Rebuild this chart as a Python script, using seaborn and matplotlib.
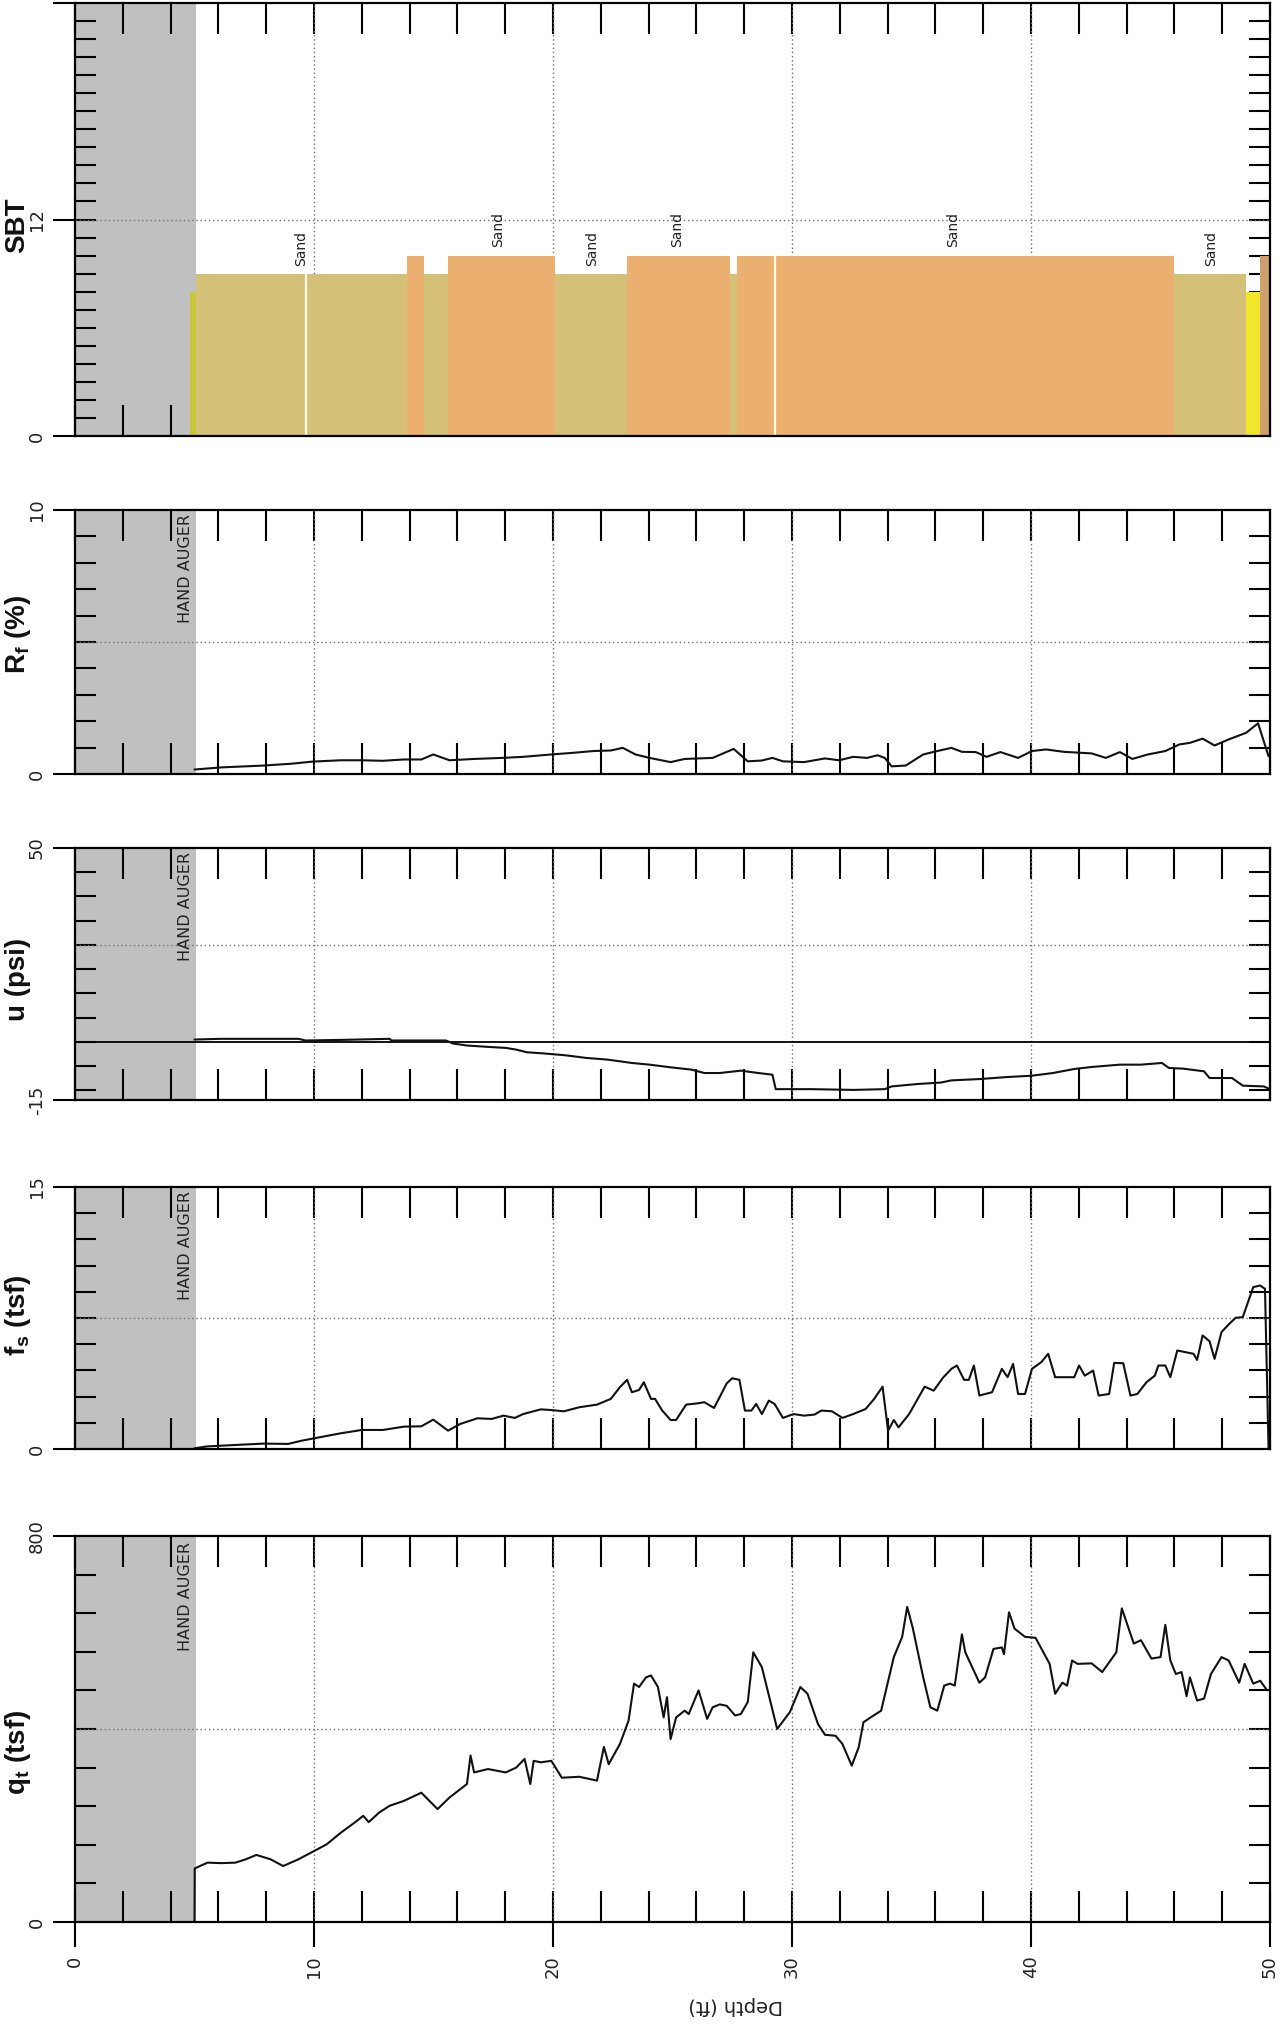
import numpy as np
import pandas as pd
import matplotlib
matplotlib.use("Agg")
import matplotlib.pyplot as plt
import seaborn as sns
from matplotlib.ticker import FixedLocator, MultipleLocator

# ---------------- data ----------------
qt_depth = [5.00, 5.01, 5.54, 6.12, 6.71, 7.15, 7.59, 8.18, 8.71, 9.35,
            10.0, 10.53, 11.12, 11.70, 12.06, 12.29, 12.73, 13.17, 13.76, 14.49,
            15.17, 15.67, 16.40, 16.55, 16.70, 17.28, 18.02, 18.46, 18.81, 19.05,
            19.19, 19.49, 19.93, 20.37, 21.10, 21.84, 22.13, 22.33, 22.80, 23.16,
            23.39, 23.60, 23.89, 24.10, 24.39, 24.63, 24.77, 24.92, 25.15, 25.51,
            25.68, 26.09, 26.45, 26.68, 26.98, 27.27, 27.62, 27.86, 28.15, 28.38,
            28.74, 29.38, 29.91, 30.35, 30.65, 31.09, 31.38, 31.82, 32.11, 32.50,
            32.79, 32.99, 33.29, 33.73, 34.26, 34.61, 34.82, 35.05, 35.49, 35.79,
            36.08, 36.37, 36.61, 36.81, 37.11, 37.25, 37.84, 38.08, 38.43, 38.78,
            38.87, 39.08, 39.31, 39.75, 40.19, 40.78, 41.01, 41.31, 41.51, 41.72,
            41.95, 42.54, 42.98, 43.57, 43.80, 44.30, 44.60, 45.04, 45.42, 45.62,
            45.83, 46.06, 46.30, 46.51, 46.65, 46.95, 47.24, 47.53, 47.97, 48.27,
            48.71, 48.94, 49.30, 49.59, 49.88]
qt_value = [0, 111, 123, 122, 123, 130, 139, 130, 116, 130,
            147, 161, 185, 206, 220, 207, 227, 241, 251, 268,
            234, 258, 286, 345, 310, 317, 310, 320, 338, 286,
            334, 331, 334, 299, 301, 293, 363, 327, 369, 417,
            494, 487, 507, 511, 487, 424, 466, 379, 424, 438,
            431, 480, 421, 445, 451, 448, 428, 431, 456, 559,
            528, 400, 435, 487, 473, 410, 388, 386, 369, 324,
            362, 414, 424, 438, 549, 591, 653, 610, 507, 445,
            438, 490, 494, 490, 596, 559, 496, 507, 566, 569,
            555, 642, 608, 591, 589, 535, 473, 496, 490, 542,
            535, 536, 518, 559, 650, 577, 584, 546, 549, 616,
            542, 514, 518, 468, 507, 459, 463, 514, 549, 542,
            496, 535, 494, 500, 480]

fs_depth = [5.00, 5.54, 6.71, 7.89, 8.91, 9.50, 10.23, 11.12, 12.00, 12.88,
            13.76, 14.49, 14.99, 15.61, 16.11, 16.84, 17.43, 17.93, 18.40, 18.75,
            19.49, 19.93, 20.46, 21.10, 21.84, 22.42, 22.80, 23.10, 23.30, 23.60,
            23.80, 24.10, 24.27, 24.57, 24.92, 25.15, 25.57, 26.09, 26.33, 26.74,
            27.27, 27.50, 27.80, 28.03, 28.30, 28.50, 28.74, 29.03, 29.27, 29.62,
            30.06, 30.50, 30.94, 31.23, 31.67, 32.11, 32.56, 33.08, 33.44, 33.79,
            34.02, 34.26, 34.46, 34.90, 35.55, 35.93, 36.31, 36.67, 36.90, 37.20,
            37.40, 37.61, 37.84, 38.37, 38.78, 39.02, 39.25, 39.46, 39.75, 40.04,
            40.43, 40.72, 41.01, 41.51, 41.81, 42.01, 42.25, 42.60, 42.83, 43.27,
            43.48, 43.86, 44.16, 44.45, 44.83, 45.18, 45.33, 45.62, 45.83, 46.12,
            46.80, 46.95, 47.18, 47.47, 47.68, 47.97, 48.27, 48.56, 48.86, 49.30,
            49.59, 49.79, 49.94]
fs_value = [0.04, 0.15, 0.23, 0.31, 0.29, 0.48, 0.67, 0.90, 1.09, 1.09,
            1.28, 1.30, 1.68, 1.05, 1.43, 1.76, 1.72, 1.91, 1.78, 2.00,
            2.27, 2.23, 2.16, 2.39, 2.54, 2.87, 3.54, 3.96, 3.25, 3.38,
            3.82, 2.87, 2.87, 2.20, 1.66, 1.66, 2.54, 2.62, 2.68, 2.35,
            3.76, 4.05, 3.96, 2.20, 2.20, 2.58, 2.00, 2.77, 2.58, 1.78,
            2.00, 1.91, 1.97, 2.20, 2.16, 1.78, 2.00, 2.29, 2.87, 3.57,
            1.05, 1.66, 1.24, 2.00, 3.57, 3.34, 4.07, 4.59, 4.78, 3.96,
            3.96, 4.78, 3.06, 3.25, 4.59, 4.11, 4.87, 3.15, 3.15, 4.59,
            4.97, 5.45, 4.11, 4.11, 4.11, 4.78, 4.20, 4.49, 3.06, 3.15,
            4.93, 4.91, 3.06, 3.15, 3.82, 4.20, 4.78, 4.78, 4.11, 5.64,
            5.45, 5.10, 6.50, 6.17, 5.16, 6.69, 7.13, 7.51, 7.55, 9.27,
            9.36, 9.17, 0.0]

u_depth = [5.00, 6.12, 7.89, 9.35, 9.65, 11.12, 13.17, 13.23, 15.52, 15.82,
           16.40, 17.28, 18.02, 18.46, 18.90, 19.63, 20.51, 21.40, 22.28, 23.30,
           24.04, 24.92, 25.80, 26.33, 26.98, 27.86, 28.59, 29.18, 29.32, 30.79,
           32.56, 33.88, 34.17, 35.20, 36.23, 36.67, 37.84, 39.02, 40.04, 40.92,
           41.81, 42.54, 43.72, 44.60, 45.48, 45.77, 46.36, 47.24, 47.47, 48.41,
           48.86, 49.74, 50.0]
u_value = [0.6, 0.78, 0.78, 0.78, 0.35, 0.5, 0.78, 0.35, 0.35, -0.43,
           -0.95, -1.3, -1.56, -2.0, -2.68, -3.0, -3.46, -4.15, -4.58, -5.45,
           -5.88, -6.57, -7.17, -8.04, -8.04, -7.43, -8.04, -8.47, -12.2, -12.2,
           -12.4, -12.2, -11.5, -10.9, -10.5, -9.94, -9.6, -9.07, -8.73, -8.04,
           -7.0, -6.48, -5.88, -5.88, -5.45, -6.74, -6.91, -7.6, -9.33, -9.33,
           -11.3, -11.5, -12.2]

rf_depth = [5.00, 6.12, 7.89, 9.06, 9.94, 11.12, 12.00, 12.88, 13.76, 14.49,
            14.99, 15.67, 16.70, 17.87, 18.75, 19.93, 20.81, 21.69, 22.42, 22.92,
            23.45, 24.04, 24.92, 25.51, 26.68, 27.56, 28.15, 28.74, 29.18, 29.62,
            30.50, 31.38, 31.97, 32.56, 33.14, 33.58, 33.88, 34.17, 34.76, 35.49,
            36.08, 36.67, 37.11, 37.69, 38.14, 38.72, 39.46, 40.04, 40.63, 41.37,
            42.54, 43.13, 43.72, 44.24, 44.89, 45.62, 46.21, 46.65, 47.18, 47.68,
            48.27, 49.00, 49.50, 49.94]
rf_value = [0.17, 0.25, 0.32, 0.39, 0.47, 0.52, 0.52, 0.50, 0.55, 0.55,
            0.74, 0.52, 0.57, 0.61, 0.65, 0.74, 0.80, 0.87, 0.89, 0.99,
            0.74, 0.61, 0.45, 0.57, 0.61, 0.95, 0.48, 0.51, 0.61, 0.48,
            0.45, 0.59, 0.52, 0.65, 0.61, 0.71, 0.61, 0.29, 0.32, 0.74,
            0.87, 0.99, 0.84, 0.83, 0.65, 0.83, 0.61, 0.87, 0.93, 0.84,
            0.78, 0.61, 0.83, 0.57, 0.74, 0.87, 1.12, 1.18, 1.34, 1.08,
            1.31, 1.56, 1.92, 0.67]

sbt_start = [4.80, 5.06, 13.9, 14.6, 15.6, 20.1, 23.1, 27.4, 27.7, 46.0, 49.0, 49.6]
sbt_end = [5.06, 13.9, 14.6, 15.6, 20.1, 23.1, 27.4, 27.7, 46.0, 49.0, 49.6, 50.0]
sbt_zone = [8, 9, 10, 9, 10, 9, 10, 9, 10, 9, 8, 10]
sbt_color = ["#C9C63A", "#D4C076", "#EBB070", "#D4C076", "#EBB070", "#D4C076",
             "#EBB070", "#D4C076", "#EBB070", "#D4C076", "#F2E52C", "#CDA06E"]
sbt_gap_depth = [9.65, 29.3]
sbt_gap_top = [9, 10]
sbt_label_depth = [9.46, 17.7, 21.63, 25.19, 36.74, 47.53]
sbt_label_zone = [9, 10, 9, 10, 10, 9]
sbt_label_text = ["Sand", "Sand", "Sand", "Sand", "Sand", "Sand"]

hand_auger_depth = 5.05
depth_ticks = [0, 10, 20, 30, 40, 50]

# ---------------- style ----------------
sns.set_theme(style="white")
plt.rcParams["font.family"] = ["DejaVu Sans"]
plt.rcParams["mathtext.fontset"] = "custom"
plt.rcParams["mathtext.rm"] = "Liberation Sans:bold"
plt.rcParams["mathtext.it"] = "Liberation Sans:bold"
plt.rcParams["mathtext.bf"] = "Liberation Sans:bold"
plt.rcParams["mathtext.default"] = "rm"

fig = plt.figure(figsize=(12.88, 20.28), dpi=100)
fig.patch.set_facecolor("white")

W, H = 1288.0, 2028.0
x0, x1 = 75, 1270
panels = [  # (top px, bottom px)
    (3, 436), (510, 774), (848, 1100), (1187, 1449), (1536, 1922)]
specs = [
    dict(name="sbt", ylim=(0, 24), major=[0, 12, 24], labels=["0", "12", ""],
         minor=list(range(1, 24)), grid=12, ylabel="SBT", lab_y=0.487),
    dict(name="rf", ylim=(0, 10), major=[0, 10], labels=["0", "10"],
         minor=list(range(1, 10)), grid=5, ylabel=r"R$_\mathregular{f}$ (%)", lab_y=0.53),
    dict(name="u", ylim=(-15, 50), major=[-15, 50], labels=["-15", "50"],
         minor=[-12.5, -6.25, 0, 6.25, 12.5, 18.75, 25, 31.25, 37.5, 43.75], grid=25,
         ylabel="u (psi)", lab_y=0.48),
    dict(name="fs", ylim=(0, 15), major=[0, 15], labels=["0", "15"],
         minor=[1.5 * i for i in range(1, 10)], grid=7.5,
         ylabel=r"f$_\mathregular{s}$ (tsf)", lab_y=0.51),
    dict(name="qt", ylim=(0, 800), major=[0, 800], labels=["0", "800"],
         minor=[80 * i for i in range(1, 10)], grid=400,
         ylabel=r"q$_\mathregular{t}$ (tsf)", lab_y=0.44),
]

line_data = {
    "rf": pd.DataFrame({"depth": rf_depth, "value": rf_value}),
    "u": pd.DataFrame({"depth": u_depth, "value": u_value}),
    "fs": pd.DataFrame({"depth": fs_depth, "value": fs_value}),
    "qt": pd.DataFrame({"depth": qt_depth, "value": qt_value}),
}

for (top, bot), sp in zip(panels, specs):
    ax = fig.add_axes([x0 / W, 1 - bot / H, (x1 - x0) / W, (bot - top) / H])
    ax.set_facecolor("white")
    ax.set_xlim(0, 50)
    ax.set_ylim(*sp["ylim"])

    # hand auger zone
    ax.axvspan(0, hand_auger_depth, color="#C0C0C0", lw=0, zorder=0)
    # grid
    for g in [10, 20, 30, 40]:
        ax.axvline(g, color="#6f6f6f", lw=1.0, ls=(0, (1, 2)), zorder=1)
    ax.axhline(sp["grid"], color="#6f6f6f", lw=1.0, ls=(0, (1, 2)), zorder=1)

    if sp["name"] == "sbt":
        widths = [e - s for s, e in zip(sbt_start, sbt_end)]
        ax.bar(sbt_start, sbt_zone, width=widths, align="edge", color=sbt_color,
               linewidth=0, zorder=2)
        ax.vlines(sbt_gap_depth, 0, sbt_gap_top, color="#FFFBE6", lw=1.6, zorder=2.5)
        for d, z, t in zip(sbt_label_depth, sbt_label_zone, sbt_label_text):
            ax.text(d, z + 0.45, t, rotation=90, ha="center", va="bottom",
                    fontsize=10, color="#222222", zorder=3)
    else:
        if sp["name"] == "u":
            ax.axhline(0, color="black", lw=1.3, zorder=2)
        sns.lineplot(data=line_data[sp["name"]], x="depth", y="value", ax=ax,
                     sort=False, estimator=None, color="#111111", lw=1.5,
                     legend=False, zorder=3)
        ax.text(4.93, 0.985, "HAND AUGER", transform=ax.get_xaxis_transform(),
                rotation=90, ha="right", va="top", fontsize=11.5, color="#222222",
                zorder=4)

    # spines
    for s in ax.spines.values():
        s.set_visible(True)
        s.set_color("black")
        s.set_linewidth(1.6)
        s.set_zorder(5)

    # ticks
    ax.xaxis.remove_overlapping_locs = False
    ax.yaxis.remove_overlapping_locs = False
    ax.xaxis.set_minor_locator(MultipleLocator(2))
    ax.yaxis.set_minor_locator(FixedLocator(sp["minor"]))
    ax.tick_params(axis="x", which="minor", direction="in", top=True, bottom=True,
                   length=22, width=1.5, color="black")
    ax.tick_params(axis="y", which="minor", direction="in", left=True, right=True,
                   length=15, width=1.5, color="black")
    ax.set_yticks(sp["major"])
    ax.set_yticklabels(sp["labels"], rotation=90, va="center")
    ax.tick_params(axis="y", which="major", direction="out", left=True, right=False,
                   length=16, width=1.5, color="black", pad=5, labelsize=13,
                   labelcolor="#222222")
    if sp["name"] == "qt":
        ax.set_xticks(depth_ticks)
        ax.set_xticklabels([str(v) for v in depth_ticks], rotation=90, ha="center")
        ax.tick_params(axis="x", which="major", direction="out", bottom=True, top=False,
                       length=18, width=1.5, color="black", pad=6, labelsize=13,
                       labelcolor="#222222")
    else:
        ax.set_xticks([])
    ax.set_xlabel("")
    ax.set_ylabel("")
    ax.text(-0.048, sp["lab_y"], sp["ylabel"], transform=ax.transAxes, rotation=90,
            ha="center", va="center", fontsize=20, fontweight="bold",
            family="Liberation Sans", color="#111111")

fig.text(736 / W, 1 - 2006 / H, "Depth (ft)", rotation=180, ha="center",
         va="center", fontsize=14, color="#222222")

fig.savefig("out.png", dpi=100, facecolor="white")
